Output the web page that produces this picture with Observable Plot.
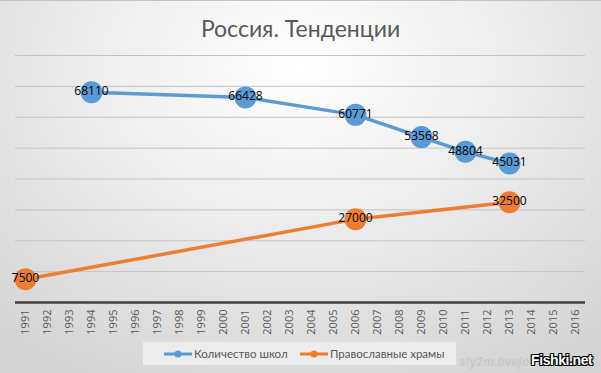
<!DOCTYPE html>
<html>
<head>
<meta charset="utf-8">
<script src="https://cdn.jsdelivr.net/npm/d3@7"></script>
<script src="https://cdn.jsdelivr.net/npm/@observablehq/plot@0.6"></script>
<style>
  html, body { margin: 0; padding: 0; background: #d8d8d8; }
  #chart {
    position: relative; width: 601px; height: 373px; overflow: hidden;
    background: radial-gradient(ellipse 80% 100% at 50% 18%, #ffffff 0%, #f3f3f3 30%, #e2e2e2 65%, #d2d2d2 100%);
    box-shadow: inset 0 1px 0 #c4c4c4;
    font-family: Lato, "Open Sans", sans-serif;
  }
  #title {
    position: absolute; left: 0; top: 13px; width: 601px; text-align: center;
    font-size: 23px; line-height: 30px; color: #595959; font-family: Lato, sans-serif;
  }
  #plot { position: absolute; left: 0; top: 0; }
  #plot g[aria-label^="x-axis"] { font-size: 11px !important; }
  #legend {
    position: absolute; left: 143px; top: 342px; width: 313px; height: 23px;
    background: rgba(242,242,242,0.75);
    font-size: 11.5px; color: #595959; font-family: Lato, sans-serif;
  }
  .item { position: absolute; top: 0; height: 23px; display: flex; align-items: center; }
  .item svg { margin-right: 2px; }
  #wm1 {
    position: absolute; left: 459px; top: 355px; font: italic bold 12px "Liberation Sans", Arial, sans-serif;
    color: #c8c8c8; letter-spacing: 0.2px;
  }
  #wm2 {
    position: absolute; left: 531px; top: 352px; font: bold 14px "Liberation Sans", Arial, sans-serif;
    color: #ffffff; letter-spacing: -0.4px;
    text-shadow: 1px 0 0 #000, -1px 0 0 #000, 0 1px 0 #000, 0 -1px 0 #000, 1px 1px 0 #000, -1px -1px 0 #000, 1px -1px 0 #000, -1px 1px 0 #000;
  }
</style>
</head>
<body>
<div id="chart">
  <div id="plot"></div>
  <div id="title">Россия. Тенденции</div>
  <div id="legend"></div>
  <div id="wm1">sly2m.livejo</div>
  <div id="wm2">Fishki.net</div>
</div>
<script>
const years = ["1991","1992","1993","1994","1995","1996","1997","1998","1999","2000","2001","2002","2003",
               "2004","2005","2006","2007","2008","2009","2010","2011","2012","2013","2014","2015","2016"];
const gridTicks = [10000, 20000, 30000, 40000, 50000, 60000, 70000, 80000];

const seriesNames = ["Количество школ", "Православные храмы"];
const seriesColors = ["#5B9BD5", "#ED7D31"];

const schoolYears = ["1994", "2001", "2006", "2009", "2011", "2013"];
const schoolValues = [68110, 66428, 60771, 53568, 48804, 45031];

const churchYears = ["1991", "2006", "2013"];
const churchValues = [7500, 27000, 32500];

const schools = schoolYears.map((y, i) => ({year: y, value: schoolValues[i]}));
const churches = churchYears.map((y, i) => ({year: y, value: churchValues[i]}));

const series = [[schools, seriesColors[0]], [churches, seriesColors[1]]];
const marks = [
  Plot.ruleY(gridTicks, {stroke: "#c3c3c3", strokeWidth: 1}),
  Plot.ruleY([0], {stroke: "#404040", strokeWidth: 2.5})
];
for (const [data, color] of series) {
  marks.push(Plot.line(data, {x: "year", y: "value", stroke: color, strokeWidth: 3.5}));
  marks.push(Plot.dot(data, {x: "year", y: "value", r: 11, fill: color, stroke: "none"}));
}
for (const [data] of series) {
  marks.push(Plot.text(data, {x: "year", y: "value", text: d => String(d.value),
    fill: "#000", fontSize: 12, fontFamily: "Open Sans", dy: -1}));
}

const plot = Plot.plot({
  width: 601,
  height: 340,
  marginTop: 55,
  marginBottom: 38,
  marginLeft: 15,
  marginRight: 16,
  style: {background: "transparent", fontFamily: "Open Sans", fontSize: "11px", color: "#595959", overflow: "visible"},
  x: {type: "point", domain: years, padding: 0.25, range: [15, 585], tickRotate: -90, tickSize: 0, tickPadding: 7, label: null},
  y: {domain: [0, 80000], axis: null},
  marks
});
document.getElementById("plot").appendChild(plot);

const legend = document.getElementById("legend");
const lefts = [21, 157];
seriesNames.forEach((name, i) => {
  const item = document.createElement("div");
  item.className = "item";
  item.style.left = lefts[i] + "px";
  item.innerHTML = `<svg width="28" height="10"><line x1="0" x2="28" y1="5" y2="5" stroke="${seriesColors[i]}" stroke-width="3"/><circle cx="14" cy="5" r="3.5" fill="${seriesColors[i]}"/></svg><span>${name}</span>`;
  legend.appendChild(item);
});
</script>
</body>
</html>
